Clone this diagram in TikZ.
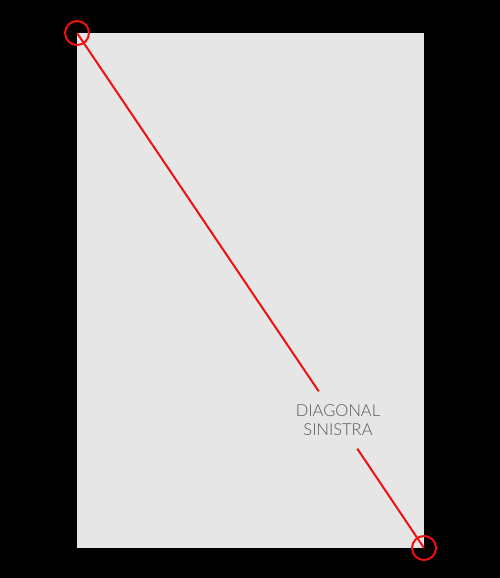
\documentclass[tikz,border=0pt]{standalone}
\usepackage{fontspec}
\setmainfont{Lato Light}
\begin{document}
\begin{tikzpicture}[x=1pt,y=-1pt,
  redline/.style={draw=linered,line width=2pt},
  corner/.style={circle,draw=linered,line width=2pt,minimum size=24pt,inner sep=0pt},
  lbl/.style={text=textgray,font=\fontsize{16.5}{19}\selectfont,align=center,inner xsep=2pt,inner ysep=13pt}]
\definecolor{linered}{HTML}{F01010}
\definecolor{textgray}{HTML}{555555}
\definecolor{paper}{HTML}{E6E6E6}
\fill[black] (0,0) rectangle (500,578);
\useasboundingbox (0,0) rectangle (500,578);
\fill[paper] (77,33) rectangle (424,548);
\coordinate (tl) at (77,33);
\coordinate (br) at (424,548);
\node[lbl] (label) at (338,420) {DIAGONAL\\SINISTRA};
\draw[redline] (tl) -- (label);
\draw[redline] (label) -- (br);
\node[corner] (ctl) at (tl) {};
\node[corner] (cbr) at (br) {};
\end{tikzpicture}
\end{document}
